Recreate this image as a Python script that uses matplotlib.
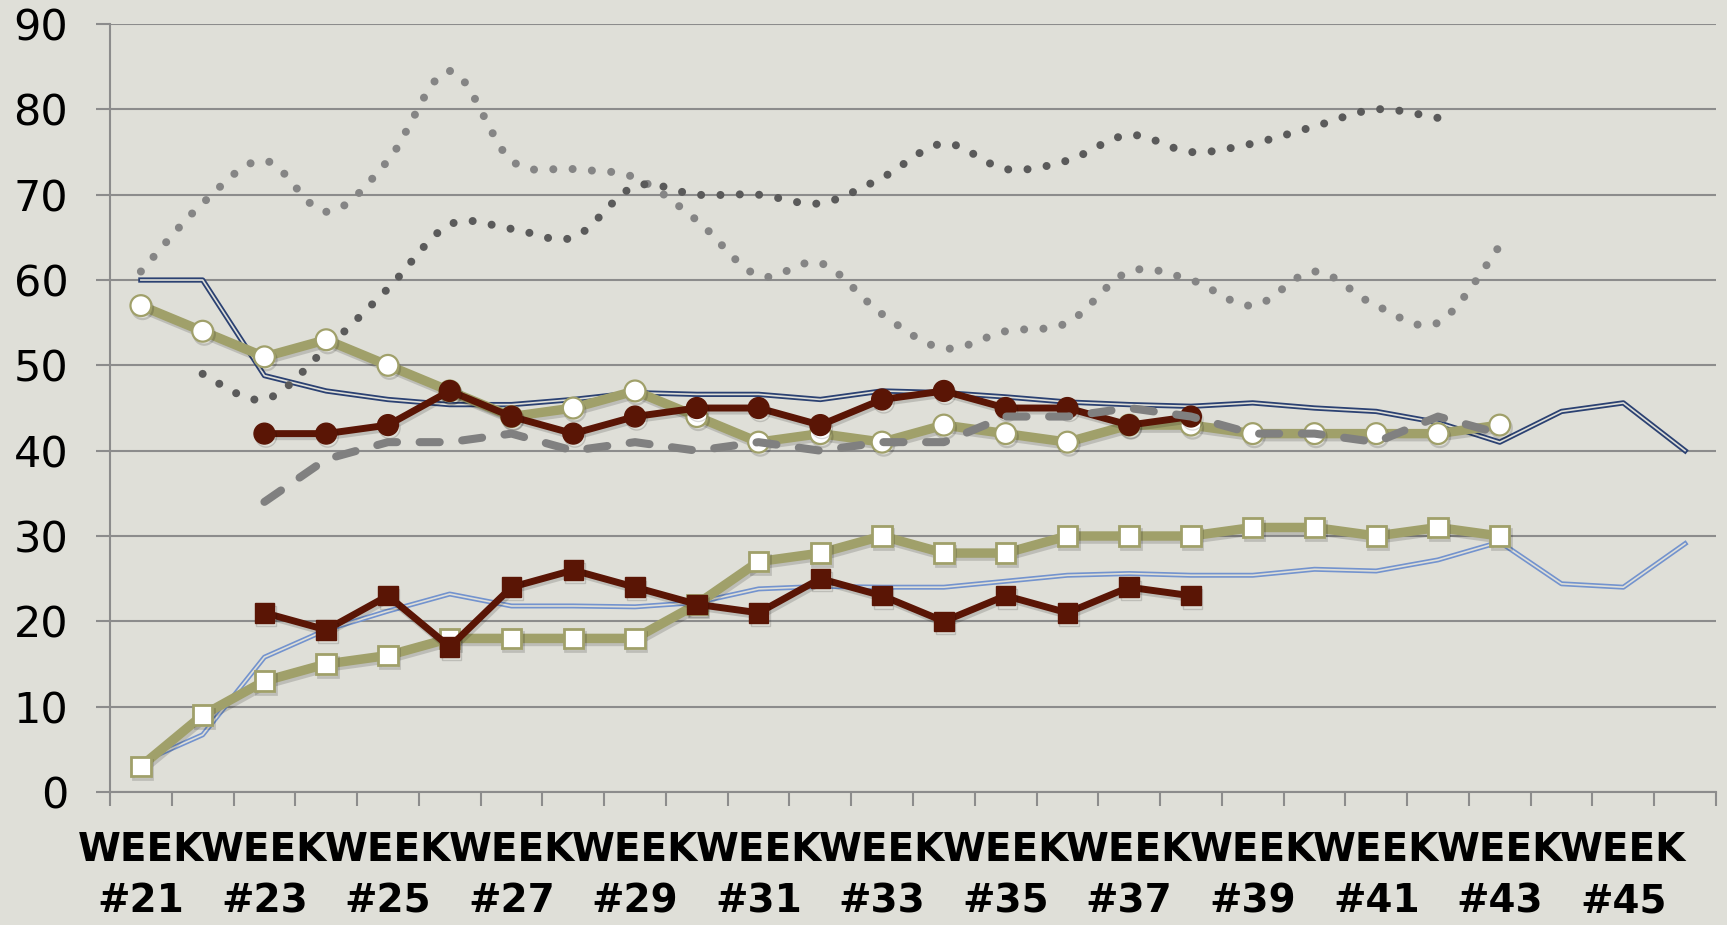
import numpy as np
import matplotlib.pyplot as plt
import matplotlib.patheffects as pe
from matplotlib.path import Path
from matplotlib.patches import PathPatch

# categories
weeks = ["WEEK #21", "WEEK #22", "WEEK #23", "WEEK #24", "WEEK #25", "WEEK #26",
         "WEEK #27", "WEEK #28", "WEEK #29", "WEEK #30", "WEEK #31", "WEEK #32",
         "WEEK #33", "WEEK #34", "WEEK #35", "WEEK #36", "WEEK #37", "WEEK #38",
         "WEEK #39", "WEEK #40", "WEEK #41", "WEEK #42", "WEEK #43", "WEEK #44",
         "WEEK #45", "WEEK #46"]

# series values (None = no value that week)
navy_line = [60, 60, 48.8, 47, 46, 45.4, 45.4, 46, 46.8, 46.6, 46.6, 46, 47, 46.8,
             46.3, 45.7, 45.4, 45.2, 45.6, 45, 44.6, 43.3, 41, 44.6, 45.6, 40]
blue_line = [3.5, 6.7, 15.8, 19, 21.2, 23.2, 21.8, 21.8, 21.7, 22.2, 23.8, 24.1, 24,
             24, 24.7, 25.4, 25.6, 25.4, 25.4, 26.1, 25.9, 27.2, 29.3, 24.4, 24, 29.1]
olive_circles = [57, 54, 51, 53, 50, 47, 44, 45, 47, 44, 41, 42, 41, 43, 42, 41, 43,
                 43, 42, 42, 42, 42, 43, None, None, None]
olive_squares = [3, 9, 13, 15, 16, 18, 18, 18, 18, 22, 27, 28, 30, 28, 28, 30, 30,
                 30, 31, 31, 30, 31, 30, None, None, None]
red_circles = [None, None, 42, 42, 43, 47, 44, 42, 44, 45, 45, 43, 46, 47, 45, 45,
               43, 44, None, None, None, None, None, None, None, None]
red_squares = [None, None, 21, 19, 23, 17, 24, 26, 24, 22, 21, 25, 23, 20, 23, 21,
               24, 23, None, None, None, None, None, None, None, None]
grey_dashed = [None, None, 34, 39, 41, 41, 42, 40, 41, 40, 41, 40, 41, 41, 44, 44,
               45, 44, 42, 42, 41, 44, 42, None, None, None]
light_dots = [61, 69, 74, 68, 74, 84.5, 74, 73, 72, 67, 60.5, 62, 56, 52, 54, 55,
              61, 60, 57, 61, 57, 55, 64, None, None, None]
dark_dots = [None, 49, 46, 52, 59, 66.5, 66, 65, 71, 70, 70, 69, 72, 76, 73, 74,
             77, 75, 76, 78, 80, 79, None, None, None, None]

bg = "#DFDFD8"
grid_c = "#8C8C8C"
olive = "#A0A06A"
red = "#5A1505"


def arr(vals):
    return np.array([np.nan if v is None else v for v in vals], dtype=float)


def smooth_path(vals):
    # smoothed line (like Excel's "smoothed line") through the data points
    pts = [(i, v) for i, v in enumerate(vals) if v is not None]
    n = len(pts)
    verts = [pts[0]]
    codes = [Path.MOVETO]
    for i in range(n - 1):
        p0 = pts[i - 1] if i > 0 else pts[i]
        p1, p2 = pts[i], pts[i + 1]
        p3 = pts[i + 2] if i + 2 < n else pts[i + 1]
        c1 = (p1[0] + (p2[0] - p0[0]) / 6, p1[1] + (p2[1] - p0[1]) / 6)
        c2 = (p2[0] - (p3[0] - p1[0]) / 6, p2[1] - (p3[1] - p1[1]) / 6)
        verts += [c1, c2, p2]
        codes += [Path.CURVE4] * 3
    return Path(verts, codes)


x = np.arange(len(weeks))

fig, ax = plt.subplots(figsize=(17.27, 9.25), dpi=100)
fig.patch.set_facecolor(bg)
ax.set_facecolor(bg)
fig.subplots_adjust(left=0.0637, right=0.9936, bottom=0.1438, top=0.974)

# double lines
ax.plot(x, arr(navy_line), color="#2B4172", lw=3.8, zorder=2)
ax.plot(x, arr(navy_line), color=bg, lw=1.2, zorder=2.05)
ax.plot(x, arr(blue_line), color="#7393CE", lw=3.6, zorder=2)
ax.plot(x, arr(blue_line), color=bg, lw=1.2, zorder=2.05)

# dotted smoothed lines
for vals, c in [(light_dots, "#858585"), (dark_dots, "#5A5A5A")]:
    patch = PathPatch(smooth_path(vals), fill=False, edgecolor=c, lw=5.8,
                      linestyle=(0, (0.001, 2.4)), capstyle="round", zorder=2.5)
    ax.add_patch(patch)

shadow = [pe.SimpleLineShadow(offset=(1.2, -2.2), shadow_color="black", alpha=0.15),
          pe.Normal()]

ax.plot(x, arr(olive_squares), color=olive, lw=6.8, marker="s", ms=14,
        mfc="white", mec=olive, mew=2, zorder=3, path_effects=shadow)
ax.plot(x, arr(olive_circles), color=olive, lw=6.8, marker="o", ms=15,
        mfc="white", mec=olive, mew=1.6, zorder=3, path_effects=shadow)
ax.plot(x, arr(red_squares), color=red, lw=5, marker="s", ms=14,
        mfc=red, mec=red, zorder=4, path_effects=shadow)
ax.plot(x, arr(red_circles), color=red, lw=5, marker="o", ms=15,
        mfc=red, mec=red, zorder=4, path_effects=shadow)
ax.plot(x, arr(grey_dashed), color="#808080", lw=5.8, dashes=(2.5, 2.8),
        dash_capstyle="round", zorder=5)

# axes styling
ax.set_xlim(-0.5, len(weeks) - 0.5)
ax.set_ylim(0, 90)
ax.set_yticks(np.arange(0, 91, 10))
ax.yaxis.grid(True, color=grid_c, lw=1.5)
ax.set_axisbelow(True)
for s in ["top", "right"]:
    ax.spines[s].set_visible(False)
for s in ["left", "bottom"]:
    ax.spines[s].set_color(grid_c)
    ax.spines[s].set_linewidth(1.5)

ax.tick_params(axis="y", direction="out", length=10, width=1.5, color=grid_c,
               pad=20, labelsize=31)
for lab in ax.get_yticklabels():
    lab.set_family("DejaVu Sans")

ax.set_xticks(x[::2])
ax.set_xticklabels([w.replace(" ", "\n") for w in weeks[::2]],
                   fontsize=28, fontweight="bold", family="DejaVu Sans",
                   linespacing=1.45)
ax.set_xticks(np.arange(-0.5, len(weeks), 1), minor=True)
ax.tick_params(axis="x", which="major", length=0, pad=28)
ax.tick_params(axis="x", which="minor", direction="out", length=10, width=1.5,
               color=grid_c)

fig.savefig("out.png", dpi=100, facecolor=bg)
